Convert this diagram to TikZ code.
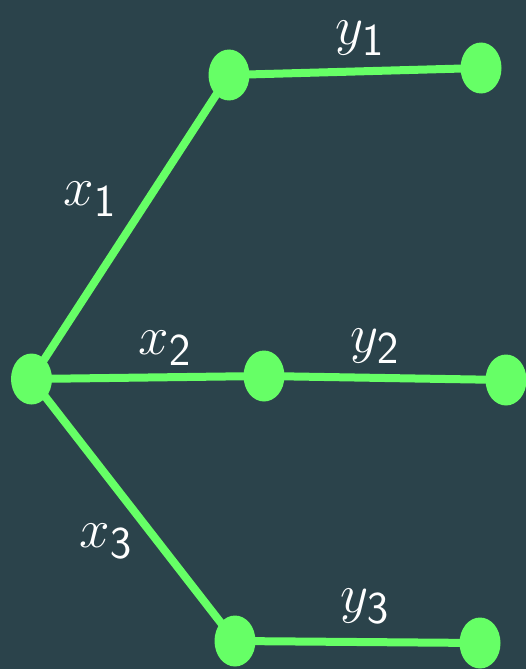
\documentclass[tikz,border=0pt]{standalone}
\usepackage{tikz}
\usetikzlibrary{shapes.geometric,backgrounds}
\definecolor{bg}{HTML}{2B434B}
\definecolor{gr}{HTML}{66FF66}
\begin{document}
\begin{tikzpicture}[x=1pt,y=-1pt,
  dot/.style={ellipse,fill=gr,minimum width=41pt,minimum height=51pt,inner sep=0pt},
  edge/.style={gr,line width=8pt},
  lbl/.style={text=white,font=\Huge,scale=2.2,inner sep=0pt}]
\useasboundingbox (0,0) rectangle (526,669);
\node[dot] (r) at (31.5,379) {};
\node[dot] (a1) at (229,75) {};
\node[dot] (b1) at (481,68) {};
\node[dot] (a2) at (264,376) {};
\node[dot] (b2) at (506,380) {};
\node[dot] (a3) at (235,641) {};
\node[dot] (b3) at (480,643) {};
\begin{scope}[on background layer]
\fill[bg] (0,0) rectangle (526,669);
\draw[edge] (r.center) -- (a1.center);
\draw[edge] (r.center) -- (a2.center);
\draw[edge] (r.center) -- (a3.center);
\draw[edge] (a1.center) -- (b1.center);
\draw[edge] (a2.center) -- (b2.center);
\draw[edge] (a3.center) -- (b3.center);
\end{scope}
\node[lbl] (lx1) at (90,199) {$x_{\mathsf{1}}$};
\node[lbl] (lx2) at (165,348) {$x_{\mathsf{2}}$};
\node[lbl] (lx3) at (106,541) {$x_{\mathsf{3}}$};
\node[lbl] (ly1) at (360,38) {$y_{\mathsf{1}}$};
\node[lbl] (ly2) at (375,346) {$y_{\mathsf{2}}$};
\node[lbl] (ly3) at (365,606) {$y_{\mathsf{3}}$};
\end{tikzpicture}
\end{document}
